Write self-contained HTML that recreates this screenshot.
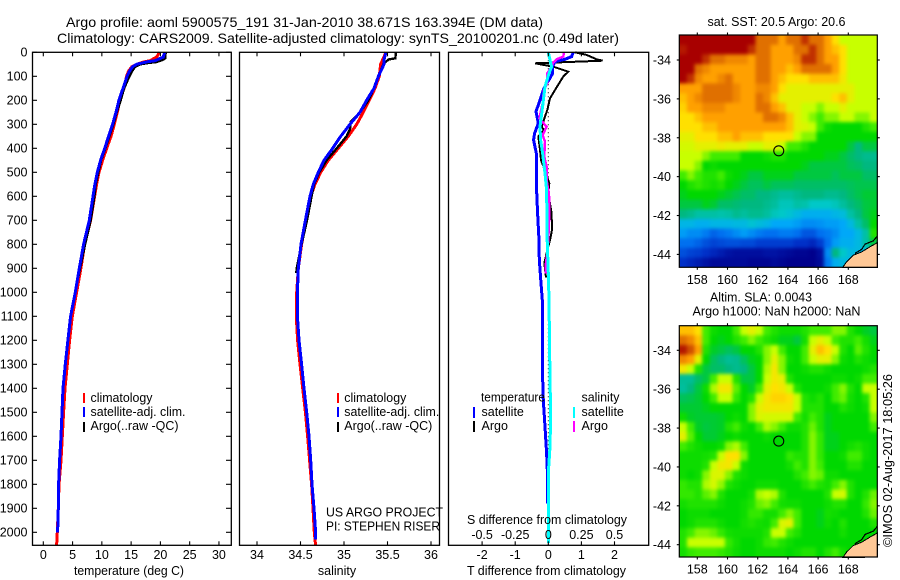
<!DOCTYPE html>
<html lang="en">
<head>
<meta charset="utf-8">
<title>Argo profile</title>
<style>
html,body{margin:0;padding:0;background:#fff;width:900px;height:580px;overflow:hidden}
svg{display:block}
text{font-family:"Liberation Sans",sans-serif;font-size:12.5px;fill:#000}
.title{font-size:14px}
</style>
</head>
<body>
<svg id="chart" xmlns="http://www.w3.org/2000/svg" width="900" height="580" viewBox="0 0 900 580">
<defs>
<filter id="soften" x="-10%" y="-10%" width="120%" height="120%" color-interpolation-filters="sRGB"><feGaussianBlur stdDeviation="1.8"/></filter>
<clipPath id="clip-sst-map"><rect x="679.3" y="35" width="198" height="232.3"/></clipPath>
<clipPath id="clip-sla-map"><rect x="679.3" y="325.7" width="198" height="231.3"/></clipPath>
</defs>
<rect x="0" y="0" width="900" height="580" fill="#fff"/>
<text class="title" x="66" y="27" textLength="477" lengthAdjust="spacingAndGlyphs">Argo profile: aoml 5900575_191 31-Jan-2010 38.671S 163.394E (DM data)</text>
<text class="title" x="57" y="43" textLength="562" lengthAdjust="spacingAndGlyphs">Climatology: CARS2009. Satellite-adjusted climatology: synTS_20100201.nc (0.49d later)</text>
<g id="layer"></g>
<g>
<rect x="83" y="393" width="2" height="10" fill="#f00"/>
<rect x="83" y="407" width="2" height="10" fill="#00f"/>
<rect x="83" y="422" width="2" height="10" fill="#000"/>
<text x="90.5" y="402" textLength="62" lengthAdjust="spacingAndGlyphs">climatology</text>
<text x="90.5" y="416" textLength="95" lengthAdjust="spacingAndGlyphs">satellite-adj. clim.</text>
<text x="90.5" y="430" textLength="88" lengthAdjust="spacingAndGlyphs">Argo(..raw -QC)</text>
</g>
<g>
<rect x="337" y="393" width="2" height="10" fill="#f00"/>
<rect x="337" y="407" width="2" height="10" fill="#00f"/>
<rect x="337" y="422" width="2" height="10" fill="#000"/>
<text x="344.3" y="402" textLength="62" lengthAdjust="spacingAndGlyphs">climatology</text>
<text x="344.3" y="416" textLength="95" lengthAdjust="spacingAndGlyphs">satellite-adj. clim.</text>
<text x="344.3" y="430" textLength="88" lengthAdjust="spacingAndGlyphs">Argo(..raw -QC)</text>
</g>
<text x="326" y="516.5" textLength="117" lengthAdjust="spacingAndGlyphs">US ARGO PROJECT</text>
<text x="326" y="530.5" textLength="114" lengthAdjust="spacingAndGlyphs">PI: STEPHEN RISER</text>
<g>
<text x="481" y="401.5" textLength="64" lengthAdjust="spacingAndGlyphs">temperature</text>
<text x="581.5" y="401.5" textLength="38" lengthAdjust="spacingAndGlyphs">salinity</text>
<rect x="473" y="407" width="2" height="11" fill="#00f"/>
<rect x="473" y="421" width="2" height="11" fill="#000"/>
<rect x="573" y="407" width="2" height="11" fill="#0ff"/>
<rect x="573" y="421" width="2" height="11" fill="#f0f"/>
<text x="481.5" y="416">satellite</text>
<text x="481.5" y="430">Argo</text>
<text x="581.5" y="416">satellite</text>
<text x="581.5" y="430">Argo</text>
</g>
<text x="129" y="575" text-anchor="middle" textLength="110" lengthAdjust="spacingAndGlyphs">temperature (deg C)</text>
<text x="337" y="575" text-anchor="middle">salinity</text>
<text x="546.5" y="575" text-anchor="middle" textLength="159" lengthAdjust="spacingAndGlyphs">T difference from climatology</text>
<text x="547" y="524" text-anchor="middle" textLength="160" lengthAdjust="spacingAndGlyphs">S difference from climatology</text>
<text x="707.5" y="26" textLength="138" lengthAdjust="spacingAndGlyphs">sat. SST: 20.5 Argo: 20.6</text>
<text x="710" y="301.5" textLength="102" lengthAdjust="spacingAndGlyphs">Altim. SLA: 0.0043</text>
<text x="692.5" y="315.5" textLength="168" lengthAdjust="spacingAndGlyphs">Argo h1000: NaN h2000: NaN</text>
<text transform="translate(892,547) rotate(-90)" textLength="173" lengthAdjust="spacingAndGlyphs">©IMOS 02-Aug-2017 18:05:26</text>
</svg>
<script>
// ---- profile data ----
const depthTicks = [0,100,200,300,400,500,600,700,800,900,1000,1100,1200,1300,1400,1500,1600,1700,1800,1900,2000];
const tempTicks = [0,5,10,15,20,25,30];
const salTicks = [34,34.5,35,35.5,36];
const tDiffTicks = [-2,-1,0,1,2];
const sDiffTicks = [-0.5,-0.25,0,0.25,0.5];
const lonTicks = [158,160,162,164,166,168];
const latTicks = [-34,-36,-38,-40,-42,-44];

const tempClimDepth = [0,20,35,40,50,60,80,100,150,200,250,300,350,400,450,500,550,600,700,800,900,1000,1100,1200,1300,1400,1500,1600,1700,1800,1900,2000,2055];
const tempClim = [19.81,19.36,18.2,17.2,15.94,15.14,14.52,14.23,13.78,13.09,12.64,12.13,11.56,10.82,10.13,9.51,9.11,8.77,8.08,7.06,6.43,5.69,4.95,4.5,4.1,3.7,3.47,3.25,3.02,2.68,2.56,2.39,2.28];
const tempSatDepth = [0,20,35,40,50,60,80,100,150,200,250,300,350,400,450,500,550,600,700,800,900,1000,1100,1200,1300,1400,1500,1600,1700,1800,1900,2000];
const tempSat = [20.72,20.5,19.07,17.65,15.94,15.26,14.69,14.29,13.61,12.92,12.41,11.84,11.16,10.48,9.79,9.22,8.82,8.48,7.86,6.89,6.15,5.47,4.67,4.21,3.76,3.36,3.19,3.02,2.79,2.62,2.56,2.45];
const tempArgoDepth = [0,25,30,40,45,50,60,80,100,150,200,250,300,350,400,450,500,550,600,700,800,900,940];
const tempArgo = [20.89,20.78,20.5,19.36,17.65,16.51,15.66,15.09,14.69,13.78,13.21,12.52,11.96,11.27,10.59,9.85,9.39,8.94,8.71,8.08,7.12,6.26,5.92];

const salClimDepth = [0,50,100,150,200,250,300,350,400,450,500,550,600,700,800,900,1000,1100,1200,1300,1400,1500,1600,1700,1800,1900,2000,2055];
const salClim = [35.483,35.421,35.406,35.356,35.291,35.222,35.146,35.05,34.935,34.82,34.732,34.667,34.617,34.563,34.513,34.475,34.456,34.452,34.467,34.494,34.525,34.556,34.582,34.605,34.628,34.644,34.659,34.674];
const salSatDepth = [0,30,50,100,150,200,250,300,350,400,450,500,550,600,700,800,900,1000,1100,1200,1300,1400,1500,1600,1700,1800,1900,2000,2030];
const salSat = [35.483,35.46,35.46,35.395,35.345,35.26,35.184,35.069,34.962,34.87,34.77,34.705,34.647,34.609,34.556,34.506,34.475,34.464,34.464,34.483,34.513,34.54,34.571,34.598,34.617,34.632,34.655,34.674,34.674];
const salArgoDepth = [0,25,30,50,100,150,200,250,290,320,350,400,450,500,550,600,700,800,900,920];
const salArgo = [35.598,35.59,35.51,35.452,35.395,35.345,35.28,35.184,35.077,35.069,35.03,34.916,34.80,34.716,34.655,34.628,34.575,34.513,34.456,34.452];

const tDiffSatDepth = [0,18,29,39,60,88,108,129,157,199,247,296,338,365,421,504,546,671,782,865,962,1032,1365,1449,1560,1671,1740,1880];
const tDiffSat = [0.755,0.705,0.503,0.201,0.131,0.131,0.05,-0.05,-0.151,-0.252,-0.372,-0.302,-0.413,-0.443,-0.362,-0.362,-0.362,-0.322,-0.282,-0.272,-0.222,-0.181,-0.17,-0.15,-0.1,-0.05,-0.03,-0.02];
const tDiffArgoDepth = [0,11,29,35,46,60,81,101,157,192,240,268,310,324,351,407,449,504,546,588,671,740,782,824,879,938];
const tDiffArgo = [0.806,1.158,1.46,1.641,-0.403,0.151,0.604,0.453,0.201,0.05,-0.03,-0.101,-0.201,-0.131,-0.302,-0.252,-0.222,-0.07,0.03,0,0.101,0.111,0.05,-0.03,-0.121,-0.07];
const sDiffSatDepth = [0,32,60,88,143,226,310,365,421,504,574,782,921,1032,1365,1505,1644,1727,1880,2045];
const sDiffSat = [0,0.013,0.025,0.005,-0.025,-0.043,-0.063,-0.058,-0.043,-0.025,-0.013,-0.008,0,0.005,0.013,0.018,0.013,0.003,0,0];
const sDiffArgoDepth = [0,18,29,43,60,88,129,157,213,275,310,324,344,372,435,476,532,588,671,782,838,879,921];
const sDiffArgo = [0.118,0.113,0.063,0.038,0.025,-0.008,-0.008,-0.033,-0.043,-0.068,-0.013,-0.025,-0.043,-0.025,-0.03,-0.013,-0.013,0.005,0.008,0,-0.008,-0.018,-0.018];

// ---- map data: colour-scale level per 0.5 degree cell, north to south, west to east ----
const sstRows = [
[13,13,13,13,13,13,13,13,13,13,11,11,11,10,11,11,12,11,11,10,9,8,8,8,8,8],
[12.5,13,13,13,13,13,13,13,13,12,11,11,10,10,10,11,11,12,11,10,9.5,9,8,8,8,8],
[13,13,13,12,11,11,10.5,10.5,10.5,10,11,11,10,10,10,10.5,12,12,11,10,10,9,8,8,8,8],
[13,13,11,10.5,10,10,10,10,10,10,11,11,10,10,9.5,10,11,11,11,11,10,9,8,8,8,8],
[13,12,10.5,10,10,10.5,11,10,10,10,11,11,10,9.5,9,9,9,9.5,9.5,9.5,9.5,8.8,8,8,8,8],
[10,10,10,11,11,11,11,10.5,10,10,10.5,10.5,10,9,8.5,8.5,8.5,8.5,8.5,8.5,8.5,8.5,8.5,8,8,8],
[9.5,10,10.5,11,11,11,11,10.5,10,10,11,10.5,9.5,8.5,8.5,8.5,8.5,8.5,8.5,8.5,9,9.5,8.5,8,8,8],
[9.2,10,10,10.5,10.5,10.5,10,10,10,10,11,11,10,9.5,8.5,8.5,8,8,7.5,8,8,8.5,8,8,8,8],
[9,9,9.5,10,10,10,10,10,10,10,10,11,11,10.5,9.5,8.5,8,7.5,7,7.5,7.5,8,8,7.5,7.5,8],
[9,9,9,9.5,9.5,10,10,10,10,10,10,10,10,10,9.5,8.5,8.3,8,7,6.2,6,6,6,6,6.5,7],
[8.5,8.5,9,9,9,9.5,9.5,10,9.5,9.5,9.5,9,9,9,9,8,7.5,7.5,6,6,6,6,6,6,6,6],
[8.2,8.2,8.5,8.5,8.5,8.7,8.5,8.5,8.5,8,8,8.5,8.5,8,7,7,6.5,6,6,6,6,6,5.5,5,5.5,5.5],
[8,8,8,7.5,7,7,7,7,6,6,6,6.2,6.5,6.5,6,6,6,6,6,5.8,5.8,5.5,5.2,5,4.8,4.8],
[8,8,7.5,6,6.2,6,6,6,6,6,6,6,6,6,6,6,5.8,5.5,5.5,5.5,5.5,5.5,5.3,5.2,5,5],
[7,7.5,7,6.5,6.5,7,6.2,6,5.8,5.5,5.5,5.8,5.8,5.8,5.8,5.5,5.5,5.5,5.5,5.5,5.3,5.5,5.5,5.5,5.2,5.2],
[6,6.5,6.8,6.5,6.3,6.5,6,5.8,5.5,5.3,5.3,5.5,5.3,5.3,5.3,5.2,5.2,5.2,5.2,5.2,5.2,5.2,5.3,5.4,5.4,5.4],
[5.8,6,6,6,6,5.8,5.6,5.4,5.2,5.2,5,5,4.8,4.6,4.6,4.8,5,5,5,4.8,4.8,5,5.2,5.4,5.6,5.6],
[5.5,5.5,5.5,5.8,5.6,5.2,5.2,5.1,5,5,5,4.8,4.6,4.2,4.2,4.5,4.4,4,4,4,4.2,4.6,5,5.2,5.5,5.6],
[5,4.8,4.5,4.5,4.5,4.4,4.5,4.8,4.6,4.8,4.8,4.6,4.2,4,3.8,3.5,3.2,3.2,3.2,3.2,3.4,3.6,4.5,5,5.5,5.8],
[3.4,3.4,3.2,3.2,3.4,3.4,3.4,3.5,3.5,3.8,3.6,3.4,3,3,3,2.8,2.5,2.5,2.6,2.8,2.8,3,3.5,4.5,5.2,6],
[2.8,2.5,2.5,2.2,1.8,2,2.2,2.5,2.8,2.5,2.2,2,2,2.2,2.2,2,1.6,1.6,2,2.2,2.5,3,3,3.5,4.5,6.5],
[2,2,1.8,1.5,1.3,1.4,1.5,1.5,1.4,1.4,1.2,1.2,1.2,1.2,1.2,1,1,0.8,1.2,2,2.8,3.2,3.2,3.5,4.5,5.5],
[1.5,1.3,1.2,1,0.8,0.6,0.4,0.3,0.3,0.3,0.3,0.4,0.4,0.3,0.2,0.1,0.1,0,0.3,2.5,5,4,3.5,3.5,3.5,3.5],
[1,0.8,0.6,0.4,0.2,0.2,0.2,0.2,0.2,0.1,0.1,0.1,0.2,0.1,0,0,0,0,0.2,2.2,3.2,3.5,3.5,3.5,3.5,3.5]
];
const slaRows = [
[9.5,9.5,9,7,6.2,6,6,7,8,8.5,8,7,6.5,6.2,6.2,6.2,6.5,7,7,7,7.5,7.5,6.5,6,5.7,5.5],
[11,10.5,9.5,7,6,5.8,6,6.5,7,7.5,7,6.5,6.2,5.8,5.8,5.5,6.3,8,8.5,8,7,6.5,6.5,7,6.3,5.8],
[12.5,11.5,10,6.5,5.7,5.5,5.3,5.5,6,6,6.5,7.5,8,7,6,6,7,8.5,9.5,9,8,6.5,6,7.2,6.5,6],
[10.5,10,8.5,6,5.3,5,4.7,4.8,5.3,5.8,6,7.5,8.5,7.5,6.2,6,7,8,8.5,8.5,7.5,6.2,6,6.5,6.2,6],
[8.8,8,6.5,5.5,5.2,5.2,5,4.8,5,5.5,6,7.8,8.8,7.5,6,6,6.2,6.5,6.5,6.2,6,6,6,6,6.2,6.5],
[4.7,4.7,5.2,5.5,7,8,8,6.5,5.5,5.5,6,8,8.8,8.5,6.5,6,6,6,6,6,6.2,6.2,6,6.2,7,7],
[4.6,5,5.5,6.2,7.8,8.8,8.8,7.2,6,5.7,7,8.5,9,8.8,8,6.5,6,6,6,6.2,7,7.5,6.5,6,8,8],
[5.3,5.4,5.6,6,7,8,8,6.8,6,6.5,8,8.8,9.2,9.2,9,8,6.5,6.2,6.5,6,7,7.3,6.3,6,6.5,8],
[5.6,5.6,5.6,5.8,6,6,6,6,6,7.5,8.5,8.8,8.8,8.8,8.8,8,6.5,6.5,6.5,6,6,6.5,6.2,6,6.2,8],
[6.2,5.7,5.6,5.6,5.6,5.7,6,6.2,6,7.5,8.3,8.2,8.2,8.2,8.2,7,6.3,7,6.5,5.8,6,6,6,6,6,7.5],
[8,7,5.7,5.5,5.6,5.7,6.5,7,6.2,6,7,7.8,7.5,7,6.2,6.2,6.5,7.3,6.5,5.8,6,6,6,6,6,7],
[8.5,7.2,6,5.6,5.6,5.8,6,6.2,6,6,6,6.2,6,6,6,6,6.5,7.5,6.8,5.8,5.8,6,6,6,6,6],
[7,6.5,6.2,6,6,6.2,7.5,7.8,7,6,6,6,6,6,6,6,6.5,7.5,6.8,5.8,5.8,6,6.3,6.5,6.2,6],
[6.2,6.2,6.2,6.3,6.5,8,9,9,7.5,6,6,6,6,6,6.8,6.5,6.5,7.5,6.8,6,6,6.2,7,7,6.2,6],
[6.2,6.2,6.2,6.5,8,8.7,8.8,8,6.2,6,6,6,6,6,6.3,7,6.5,7.5,7,6,6,6,6.5,6.5,6,6],
[6.2,6,6.2,7.5,8.3,8.3,7.5,6.5,6.2,6,6,6,6,6,6,6.5,7,7.5,7.3,6.2,6.2,6,6,6,6,6],
[6.8,6.5,6.5,7.8,8.2,7.6,6.5,6.2,6,6,6.2,6.2,6.2,6,6,6,6.5,7,6.5,6.3,7,7.5,6.5,6,6,6],
[6.8,6.8,6.5,7.2,7.5,6.5,6,6,6,6.3,7.8,8,7.8,6.5,6,6,6,6,6,6.5,8,8.2,6.5,6,6.5,7.3],
[6.3,6.5,6.5,6.5,6.5,6.2,6,6,6.2,6.5,7.3,7.5,7,6.3,6.2,6.2,6,6,6,6.2,6.5,6.5,6,6,6.8,7.5],
[6,6.2,6.2,6.2,6,6,6,6,6.2,6.8,6.8,6.3,6.3,7,7.5,7,6,6,5.8,6.3,6.2,6,6,6,6.5,7.3],
[6,6.2,6.5,6.5,6.5,6.2,6,6,6.3,6.5,6.3,6.2,7,8.3,8.5,7,6,6,5.8,6.2,6,6.5,6,6,6,6.5],
[6.5,7,7.5,7.5,7.3,6.8,6.3,6.2,6.2,6.2,6.2,6.5,8,8,7,6.5,6,6,6,6,6,6.3,6,6,6,6],
[6.5,8,8,8,8,8,6.8,6.3,6,6,6.2,6.8,7,6.5,6.2,6,6,6,6,6,6,6,6,6,6,6],
[6.3,6.8,7,7,7,6.8,6.5,6.2,6,6,6.2,6.2,6.2,6.2,6,6.2,6.5,6.5,6,6.5,7,6.3,6,6,6,6]
];
const coastLon = [167.63,167.89,168.33,168.89,169.44,169.92];
const coastLat = [-44.67,-44.38,-44.04,-43.87,-43.61,-43.40];
const islandLon = [168.44,168.89,169.11,169.66,169.92];
const islandLat = [-43.95,-43.74,-43.47,-43.3,-43.06];
const profileLon = 163.394;
const profileLat = -38.671;

// ---- helpers ----
const NS = 'http://www.w3.org/2000/svg';
const layer = document.getElementById('layer');
function make(tag, attrs, parent) {
  const el = document.createElementNS(NS, tag);
  for (const k in attrs) el.setAttribute(k, attrs[k]);
  (parent || layer).appendChild(el);
  return el;
}
const Y0 = 52.3, Y1 = 545.3;
const depthY = d => Y0 + d * 0.24;
const tempX = v => 43.3 + v * 5.855;
const salX = v => 257 + (v - 34) * 87;
const tDiffX = v => 548.3 + v * 33.1;
const sDiffX = v => 548.3 + v * 132.4;

function profile(name, depths, values, xf, color, width) {
  const pts = values.map((v, i) => xf(v).toFixed(1) + ',' + depthY(depths[i]).toFixed(1)).join(' ');
  const el = make('polyline', {points: pts, fill: 'none', stroke: color, 'stroke-width': width, 'stroke-linejoin': 'miter', 'shape-rendering': 'crispEdges'});
  
  
}
function frame(name, x0, x1, y0, y1) {
  const el = make('rect', {x: x0, y: y0, width: x1 - x0, height: y1 - y0, fill: 'none', stroke: '#000', 'stroke-width': 1.3});
  
  
}
function tick(x1, y1, x2, y2) {
  const el = make('line', {x1: x1, y1: y1, x2: x2, y2: y2, stroke: '#000', 'stroke-width': 1.1});
  
  
}
function label(text, x, y, anchor) {
  const el = make('text', {x: x, y: y, 'text-anchor': anchor});
  el.textContent = text;
  
  
}

// ---- profile panels ----
profile('temperature-climatology-line', tempClimDepth, tempClim, tempX, '#f00', 3);
profile('temperature-argo-line', tempArgoDepth, tempArgo, tempX, '#000', 2.6);
profile('temperature-satellite-line', tempSatDepth, tempSat, tempX, '#00f', 3);
profile('salinity-climatology-line', salClimDepth, salClim, salX, '#f00', 3);
profile('salinity-argo-line', salArgoDepth, salArgo, salX, '#000', 2.4);
profile('salinity-satellite-line', salSatDepth, salSat, salX, '#00f', 3);

const zero = make('line', {x1: tDiffX(0), y1: Y0, x2: tDiffX(0), y2: Y1, stroke: '#000', 'stroke-width': 1, 'stroke-dasharray': '1 3'});


profile('t-difference-argo-line', tDiffArgoDepth, tDiffArgo, tDiffX, '#000', 2);
profile('t-difference-satellite-line', tDiffSatDepth, tDiffSat, tDiffX, '#00f', 3);
profile('s-difference-argo-line', sDiffArgoDepth, sDiffArgo, sDiffX, '#f0f', 2.4);
profile('s-difference-satellite-line', sDiffSatDepth, sDiffSat, sDiffX, '#0ff', 3);

frame('temperature-panel-frame', 32.5, 231.3, Y0, Y1);
frame('salinity-panel-frame', 239.5, 439.5, Y0, Y1);
frame('difference-panel-frame', 448.5, 648.7, Y0, Y1);

depthTicks.forEach(d => {
  tick(32.5, depthY(d), 37, depthY(d));
  tick(226, depthY(d), 231.3, depthY(d));
  label(String(d), 27.5, depthY(d) + 4.3, 'end');
});
tempTicks.forEach(v => {
  tick(tempX(v), Y0, tempX(v), Y0 + 4);
  tick(tempX(v), Y1, tempX(v), Y1 - 4);
  label(String(v), tempX(v), 559, 'middle');
});
salTicks.forEach(v => {
  tick(salX(v), Y0, salX(v), Y0 + 4);
  tick(salX(v), Y1, salX(v), Y1 - 4);
  label(String(v), salX(v), 559, 'middle');
});
tDiffTicks.forEach(v => {
  tick(tDiffX(v), Y0, tDiffX(v), Y0 + 4);
  tick(tDiffX(v), Y1, tDiffX(v), Y1 - 4);
  label(String(v), tDiffX(v), 559, 'middle');
});
sDiffTicks.forEach(v => {
  label(String(v), sDiffX(v), 539, 'middle');
});

// ---- maps ----
const levelColors = ['#00008c','#0030c8','#0070f0','#00a8f8','#00c8c8','#00b880','#00d800','#40ec00','#c8ff00','#ffe000','#ffa000','#e07000','#c03000','#a80000'];
function levelColor(v) {
  const i = Math.max(0, Math.min(12, Math.floor(v)));
  const t = Math.max(0, Math.min(1, v - i));
  const a = levelColors[i], b = levelColors[i + 1];
  const ch = n => Math.round(parseInt(a.substr(n, 2), 16) * (1 - t) + parseInt(b.substr(n, 2), 16) * t);
  return 'rgb(' + ch(1) + ',' + ch(3) + ',' + ch(5) + ')';
}
function drawMap(prefix, rows, top, bottom, lat34) {
  const lonX = v => 697.3 + (v - 158) * 15.1;
  const latY = v => lat34 + (-34 - v) * 19.44;
  const left = 679.3, right = 877.3;
  const lonStart = 158 + (left - 697.3) / 15.1;
  const latStart = -34 - (top - lat34) / 19.44;
  const lonStep = (right - left) / 15.1 / rows[0].length;
  const latStep = (bottom - top) / 19.44 / rows.length;
  const clipGroup = make('g', {'clip-path': 'url(#clip-' + prefix + ')'});
  
  
  const cells = make('g', {filter: 'url(#soften)'}, clipGroup);
  
  
  const pad = 12;
  rows.forEach((row, r) => {
    row.forEach((v, c) => {
      let x = lonX(lonStart + c * lonStep);
      let y = latY(latStart - r * latStep);
      let w = lonStep * 15.1 + 0.4;
      let h = latStep * 19.44 + 0.4;
      if (c === 0) { x -= pad; w += pad; }
      if (c === row.length - 1) { w += pad; }
      if (r === 0) { y -= pad; h += pad; }
      if (r === rows.length - 1) { h += pad; }
      const cell = make('rect', {x: x.toFixed(2), y: y.toFixed(2), width: w.toFixed(2), height: h.toFixed(2), fill: levelColor(v)}, cells);
      
      
    });
  });
  const landPts = coastLon.map((lon, i) => lonX(lon).toFixed(1) + ',' + latY(coastLat[i]).toFixed(1));
  landPts.push(right + ',' + bottom);
  const land = make('polygon', {points: landPts.join(' '), fill: '#ffc896', stroke: '#000', 'stroke-width': 1, 'shape-rendering': 'crispEdges'});
  
  
  const island = make('polyline', {points: islandLon.map((lon, i) => lonX(lon).toFixed(1) + ',' + latY(islandLat[i]).toFixed(1)).join(' '), fill: 'none', stroke: '#000', 'stroke-width': 1.2, 'shape-rendering': 'crispEdges'});
  
  
  const marker = make('circle', {cx: lonX(profileLon), cy: latY(profileLat), r: 5, fill: 'none', stroke: '#000', 'stroke-width': 1.1});
  
  
  const border = make('rect', {x: left, y: top, width: right - left, height: bottom - top, fill: 'none', stroke: '#000', 'stroke-width': 1.2});
  
  
  lonTicks.forEach(v => {
    tick(lonX(v), top, lonX(v), top - 2.5);
    tick(lonX(v), bottom, lonX(v), bottom + 2.5);
    label(String(v), lonX(v), bottom + 16.5, 'middle');
  });
  latTicks.forEach(v => {
    tick(left, latY(v), left - 2.5, latY(v));
    tick(right, latY(v), right + 2.5, latY(v));
    label(String(v), 671, latY(v) + 4.5, 'end');
  });
}
drawMap('sst-map', sstRows, 35, 267.3, 60);
drawMap('sla-map', slaRows, 325.7, 557, 350.3);
</script>
</body>
</html>
